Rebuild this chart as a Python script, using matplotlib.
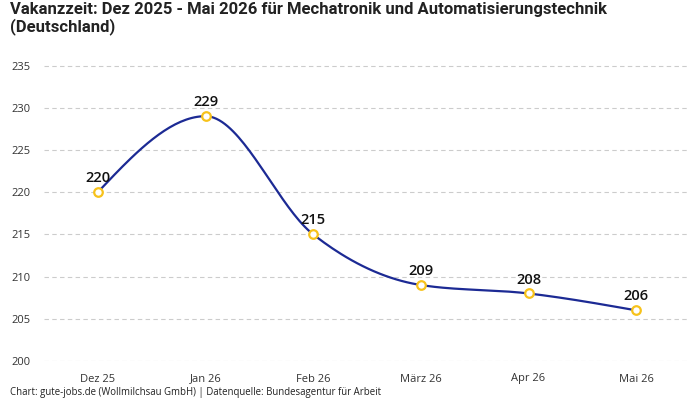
import matplotlib
matplotlib.use("Agg")
import matplotlib.pyplot as plt
import numpy as np

# Data
months = ['Dez 25', 'Jan 26', 'Feb 26', 'März 26', 'Apr 26', 'Mai 26']
vakanz = [220, 229, 215, 209, 208, 206]

title = 'Vakanzzeit: Dez 2025 - Mai 2026 für Mechatronik und Automatisierungstechnik\n(Deutschland)'
source = 'Chart: gute-jobs.de (Wollmilchsau GmbH) | Datenquelle: Bundesagentur für Arbeit'


def monotone_curve(x, y, n=40):
    # monotone cubic (Fritsch-Carlson) like d3.curveMonotoneX
    x = np.asarray(x, float)
    y = np.asarray(y, float)
    h = np.diff(x)
    d = np.diff(y) / h
    m = np.zeros_like(y)
    for i in range(1, len(y) - 1):
        if d[i - 1] * d[i] <= 0:
            m[i] = 0
        else:
            p = (d[i - 1] * h[i] + d[i] * h[i - 1]) / (h[i - 1] + h[i])
            m[i] = np.sign(d[i - 1]) * min(abs(d[i - 1]), abs(d[i]), 0.5 * abs(p)) * 2
    m[0] = (3 * d[0] - m[1]) / 2
    m[-1] = (3 * d[-1] - m[-2]) / 2
    xs, ys = [], []
    for i in range(len(h)):
        t = np.linspace(0, 1, n)
        h00 = 2 * t**3 - 3 * t**2 + 1
        h10 = t**3 - 2 * t**2 + t
        h01 = -2 * t**3 + 3 * t**2
        h11 = t**3 - t**2
        xs.append(x[i] + t * h[i])
        ys.append(h00 * y[i] + h10 * h[i] * m[i] + h01 * y[i + 1] + h11 * h[i] * m[i + 1])
    return np.concatenate(xs), np.concatenate(ys)


plt.rcParams['font.family'] = ['Open Sans', 'DejaVu Sans']

fig = plt.figure(figsize=(7, 4), dpi=100)
ax = fig.add_axes([44 / 700, 39 / 400, 646 / 700, 298 / 400])

x = np.arange(len(months))
cx, cy = monotone_curve(x, vakanz)
ax.plot(cx, cy, color='#1c2a94', linewidth=1.6, zorder=3)
ax.scatter(x, vakanz, s=38, facecolor='white', edgecolor='#f7c21a', linewidth=1.6, zorder=4)

for xi, v in zip(x, vakanz):
    ax.annotate(str(v), (xi, v), xytext=(0, 5), textcoords='offset points',
                ha='center', va='bottom', fontsize=10.5, fontweight='semibold', color='#111111')

ax.set_xlim(-0.5, len(months) - 0.5)
ax.set_ylim(200, 235.3)
ax.set_yticks(range(200, 236, 5))
ax.set_xticks(x)
ax.set_xticklabels(months)
ax.tick_params(axis='both', length=0, labelsize=8, colors='#333333')
ax.tick_params(axis='x', pad=9)
ax.tick_params(axis='y', pad=10)
ax.grid(axis='y', color='#cccccc', linestyle=(0, (4, 3)), linewidth=0.8)
ax.grid(axis='x', visible=False)
for s in ax.spines.values():
    s.set_visible(False)

fig.text(10 / 700, 1 - 2 / 400, title, ha='left', va='top', fontsize=12,
         fontweight='bold', family=['Roboto', 'DejaVu Sans'],
         color='#222222', linespacing=1.08)
fig.text(10 / 700, 7 / 400, source, ha='left', va='center', fontsize=6.9, color='#222222')

fig.savefig('out.png', dpi=100)
